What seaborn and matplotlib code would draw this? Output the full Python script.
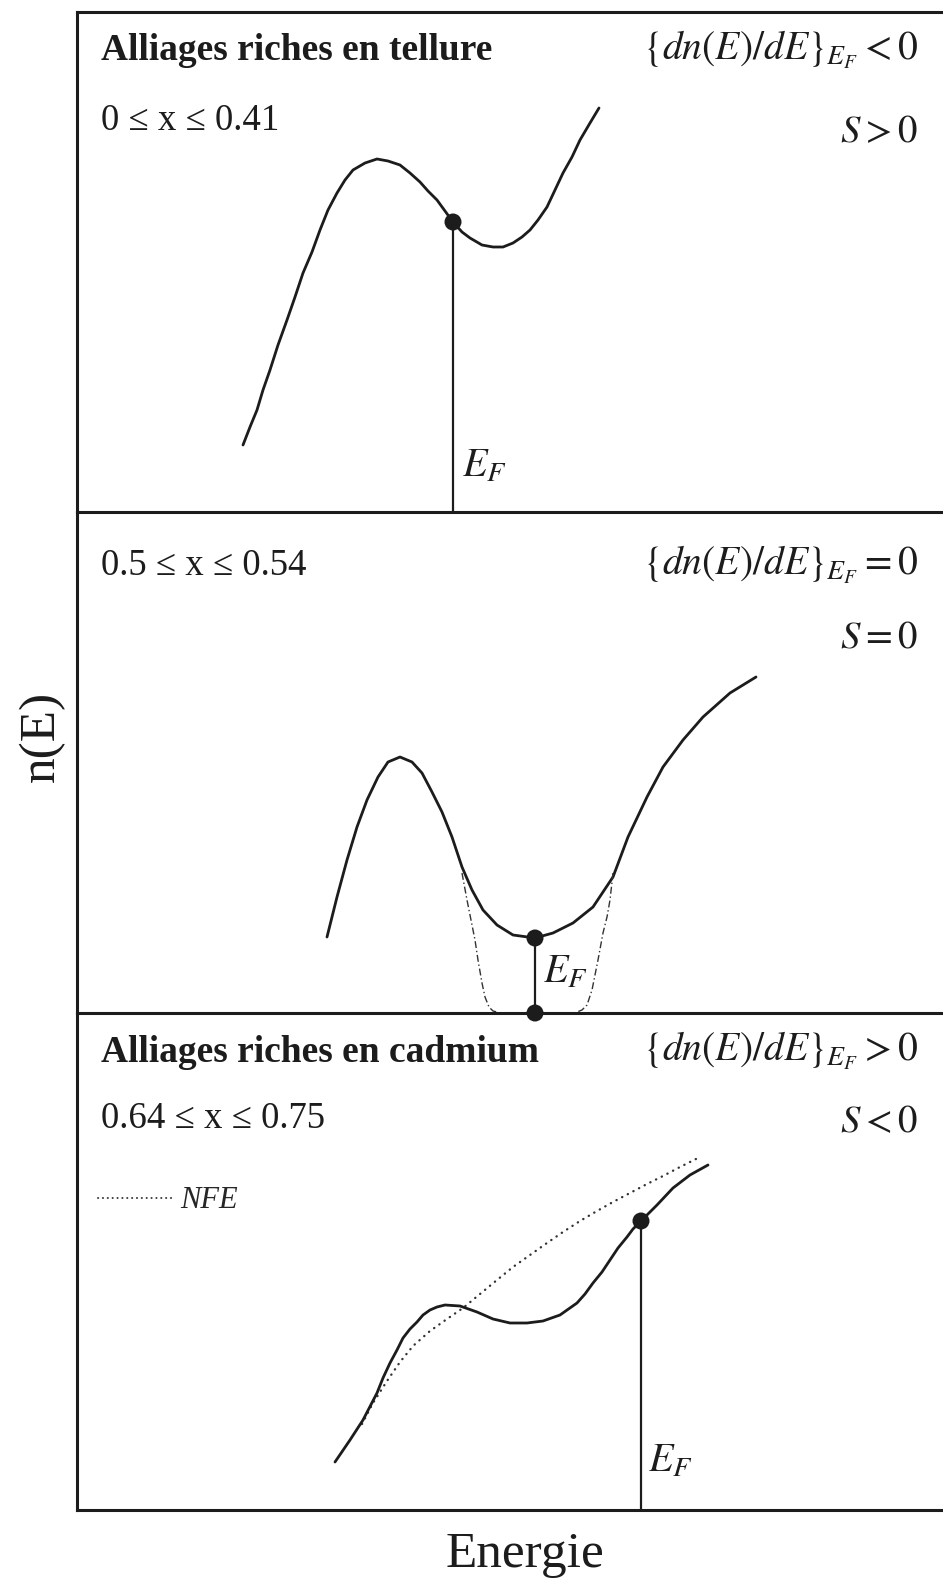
import matplotlib
matplotlib.use("Agg")
import matplotlib.pyplot as plt
import seaborn as sns
from matplotlib.lines import Line2D

# ---------------- data (energy, n(E)) in arbitrary units ----------------
# Panel 1 : alliages riches en tellure
energy_te = [166, 173, 180, 186, 193, 201, 210, 218, 226, 235, 243, 251, 260, 268, 276, 288, 300, 311,
             323, 333, 343, 351, 360, 368, 376, 385, 393, 405, 416, 426, 436, 445, 453, 461, 470, 478,
             486, 495, 503, 513, 522]
dos_te = [67, 85, 102, 122, 142, 167, 192, 215, 239, 260, 282, 302, 319, 332, 342, 349, 353, 351,
          347, 339, 330, 321, 312, 301, 290, 280, 274, 267, 265, 265, 269, 275, 282, 292, 305, 322,
          339, 355, 372, 389, 404]
ef_te, ef_te_dos = 376, 290

# Panel 2 : 0.5 <= x <= 0.54
energy_mid = [250, 260, 270, 280, 290, 301, 311, 323, 335, 345, 355, 365, 375, 385, 395, 406, 420, 436,
              458, 476, 496, 516, 536, 551, 570, 586, 606, 626, 653, 679]
dos_mid = [76, 116, 153, 186, 213, 236, 251, 256, 251, 240, 221, 201, 176, 146, 123, 103, 88, 78,
           75, 80, 90, 106, 136, 176, 216, 246, 273, 296, 320, 336]
gap_left_energy = [385, 390, 394, 398, 401, 405, 408, 412, 416, 420]
gap_left_dos = [140, 113, 93, 73, 53, 30, 16, 6, 2, 1]
gap_right_energy = [536, 533, 530, 526, 521, 515, 510, 505, 500]
gap_right_dos = [140, 113, 96, 80, 53, 23, 8, 3, 1]
ef_mid, ef_mid_dos = 458, 75

# Panel 3 : alliages riches en cadmium
energy_cd = [258, 273, 286, 300, 306, 313, 320, 326, 333, 340, 346, 353, 360, 368, 383, 400, 416, 433,
             450, 466, 483, 500, 508, 516, 525, 533, 541, 550, 556, 563, 580, 596, 613, 631]
dos_cd = [48, 70, 90, 117, 132, 147, 160, 172, 181, 188, 195, 200, 203, 205, 204, 198, 191, 187,
          187, 189, 195, 207, 216, 227, 238, 250, 262, 273, 281, 288, 305, 322, 335, 345]
energy_nfe = [285, 296, 310, 323, 336, 353, 370, 386, 403, 420, 436, 453, 470, 486, 503, 520, 536, 553,
              570, 586, 603, 623]
dos_nfe = [86, 107, 129, 148, 164, 179, 191, 202, 216, 230, 243, 255, 267, 278, 289, 299, 308, 317,
           326, 334, 343, 353]
ef_cd, ef_cd_dos = 564, 289

# ---------------- texts ----------------
titles = ["Alliages riches en tellure", None, "Alliages riches en cadmium"]
ranges = ["0 \u2264 x \u2264 0.41", "0.5 \u2264 x \u2264 0.54", "0.64 \u2264 x \u2264 0.75"]
slopes = [r"$\{dn(E)/dE\}_{E_F} < 0$", r"$\{dn(E)/dE\}_{E_F} = 0$", r"$\{dn(E)/dE\}_{E_F} > 0$"]
seebeck = [r"$S > 0$", r"$S = 0$", r"$S < 0$"]
ylabel_text = "n(E)"
xlabel_text = "Energie"
nfe_label = "NFE"

# ---------------- style ----------------
sns.set_style("white")
plt.rcParams["font.family"] = ["Liberation Serif", "DejaVu Serif"]
plt.rcParams["mathtext.fontset"] = "stix"
INK = "#1c1c1c"

W, H = 943, 1583
fig = plt.figure(figsize=(W / 100, H / 100), dpi=100)
fig.patch.set_facecolor("white")


def fx(px):
    return px / W


def fy(py):
    return 1 - py / H


panel_px = [(12, 512), (512, 1013), (1013, 1510)]
axes = []
for top, bot in panel_px:
    ax = fig.add_axes([fx(77), fy(bot), fx(947) - fx(77), fy(top) - fy(bot)])
    ax.set_facecolor("none")
    ax.set_xlim(0, 870)
    ax.set_ylim(0, bot - top)
    ax.set_xticks([])
    ax.set_yticks([])
    for s in ax.spines.values():
        s.set_linewidth(2.2)
        s.set_color(INK)
    ax.spines["right"].set_visible(False)
    axes.append(ax)
axes[1].spines["top"].set_visible(False)
axes[2].spines["top"].set_visible(False)
ax1, ax2, ax3 = axes

LW = 2.0
DOT = 150
# Panel 1
sns.lineplot(x=energy_te, y=dos_te, ax=ax1, color=INK, lw=LW, sort=False, estimator=None)
ax1.lines[-1].set_solid_joinstyle("round")
ax1.vlines(ef_te, 0, ef_te_dos, color=INK, lw=1.6)
sns.scatterplot(x=[ef_te], y=[ef_te_dos], ax=ax1, color=INK, s=DOT, edgecolor="none", zorder=5)

# Panel 2
sns.lineplot(x=energy_mid, y=dos_mid, ax=ax2, color=INK, lw=LW, sort=False, estimator=None)
ax2.lines[-1].set_solid_joinstyle("round")
for ex, ey in ((gap_left_energy, gap_left_dos), (gap_right_energy, gap_right_dos)):
    sns.lineplot(x=ex, y=ey, ax=ax2, color="#333333", lw=1.0, sort=False, estimator=None)
    ax2.lines[-1].set_linestyle((0, (5, 2, 1, 2)))
ax2.vlines(ef_mid, 0, ef_mid_dos, color=INK, lw=1.6)
sns.scatterplot(x=[ef_mid, ef_mid], y=[ef_mid_dos, 0], ax=ax2, color=INK, s=DOT,
                edgecolor="none", zorder=5, clip_on=False)

# Panel 3
sns.lineplot(x=energy_nfe, y=dos_nfe, ax=ax3, color="#333333", lw=1.7, sort=False, estimator=None)
nfe_line = ax3.lines[-1]
nfe_line.set_linestyle((0, (0.1, 2.6)))
nfe_line.set_dash_capstyle("round")
sns.lineplot(x=energy_cd, y=dos_cd, ax=ax3, color=INK, lw=LW, sort=False, estimator=None)
ax3.lines[-1].set_solid_joinstyle("round")
ax3.vlines(ef_cd, 0, ef_cd_dos, color=INK, lw=1.6)
sns.scatterplot(x=[ef_cd], y=[ef_cd_dos], ax=ax3, color=INK, s=DOT, edgecolor="none", zorder=5)

for ax in axes:
    ax.set_xlabel("")
    ax.set_ylabel("")
    if ax.get_legend() is not None:
        ax.get_legend().remove()

# legend NFE
handle = Line2D([], [], color="#333333", lw=1.4, linestyle=(0, (0.1, 2.4)), dash_capstyle="round")
ax3.legend([handle], [nfe_label], loc="center left", bbox_to_anchor=(fx(98), fy(1201)),
           bbox_transform=fig.transFigure, frameon=False, handlelength=2.5, handletextpad=0.2,
           borderpad=0, borderaxespad=0,
           prop=dict(family=["Liberation Serif", "DejaVu Serif"], style="italic", size=22))

# texts
title_base = [60, None, 1062]
range_base = [130, 575, 1128]
slope_base = [60, 575, 1061]
s_base = [142, 647, 1132]
ef_pos = [(462, 477), (543, 983), (648, 1472)]
for i in range(3):
    if titles[i]:
        fig.text(fx(101), fy(title_base[i]), titles[i], fontsize=27, fontweight="bold",
                 color=INK, ha="left", va="baseline")
    fig.text(fx(101), fy(range_base[i]), ranges[i], fontsize=26.5, color=INK, ha="left", va="baseline")
    fig.text(fx(918), fy(slope_base[i]), slopes[i], fontsize=28.5, color=INK, ha="right", va="baseline")
    fig.text(fx(918), fy(s_base[i]), seebeck[i], fontsize=28, color=INK, ha="right", va="baseline")
    fig.text(fx(ef_pos[i][0]), fy(ef_pos[i][1]), r"$E_F$", fontsize=29, color=INK, ha="left", va="baseline")

fig.text(fx(42), fy(736), ylabel_text, fontsize=37, rotation=90, color=INK, ha="center", va="center")
fig.text(fx(525), fy(1567), xlabel_text, fontsize=37, color=INK, ha="center", va="baseline")

fig.savefig("out.png", dpi=100, facecolor="white")
